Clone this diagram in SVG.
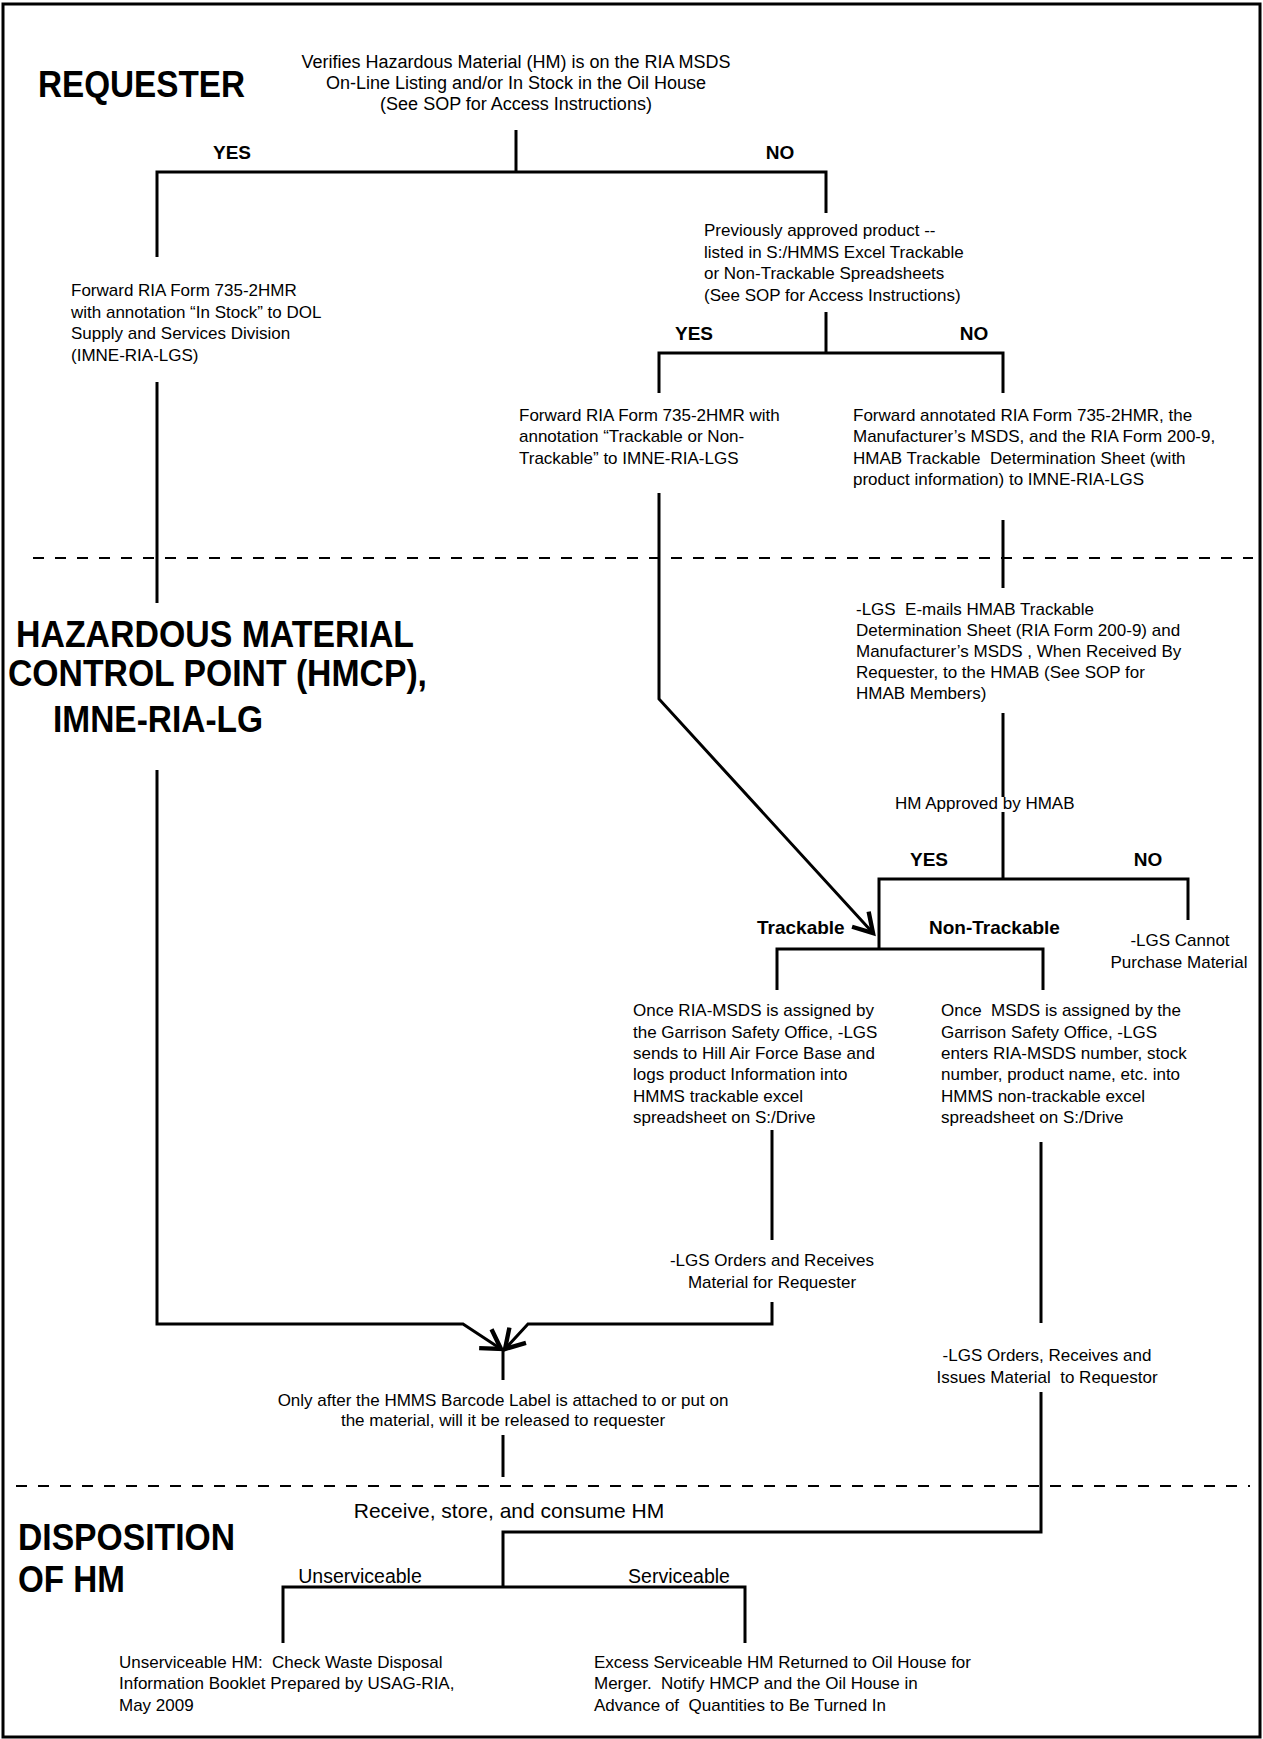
<svg xmlns="http://www.w3.org/2000/svg" width="1263" height="1739" viewBox="0 0 1263 1739">
<style>
text { font-family: "Liberation Sans", Arial, sans-serif; fill: #000; white-space: pre; }
.t { font-size: 17px; }
.t18 { font-size: 18px; }
.c { text-anchor: middle; }
.h { font-size: 37px; font-weight: bold; }
.lb { font-size: 19px; font-weight: bold; }
.ln { fill: none; stroke: #000; stroke-width: 3; stroke-linejoin: miter; }
.dash { fill: none; stroke: #000; stroke-width: 2; stroke-dasharray: 11 11; }
.frame { fill: #fff; stroke: #000; stroke-width: 3; }
</style>
<defs>
<marker id="arr" markerUnits="userSpaceOnUse" markerWidth="30" markerHeight="30" viewBox="-20 -12 24 24" refX="0" refY="0" orient="auto">
<path d="M -15 -9 L 0 0 L -15 9" fill="none" stroke="#000" stroke-width="3.5"/>
</marker>
</defs>
<rect class="frame" x="3" y="4" width="1257" height="1733"/>

<g id="lanes">
<line class="dash" x1="33" y1="558" x2="1253" y2="558"/>
<line class="dash" x1="16" y1="1486" x2="1250" y2="1486"/>
<text class="h" x="38" y="97" textLength="207" lengthAdjust="spacingAndGlyphs">REQUESTER</text>
<text class="h" x="16" y="647" textLength="398" lengthAdjust="spacingAndGlyphs">HAZARDOUS MATERIAL</text>
<text class="h" x="8" y="686" textLength="419" lengthAdjust="spacingAndGlyphs">CONTROL POINT (HMCP),</text>
<text class="h" x="53" y="732" textLength="210" lengthAdjust="spacingAndGlyphs">IMNE-RIA-LG</text>
<text class="h" x="18" y="1550" textLength="217" lengthAdjust="spacingAndGlyphs">DISPOSITION</text>
<text class="h" x="18" y="1592" textLength="107" lengthAdjust="spacingAndGlyphs">OF HM</text>
</g>

<g id="connectors">
<polyline class="ln" points="516,130 516,172"/>
<polyline class="ln" points="157,257 157,172 826,172 826,213"/>
<polyline class="ln" points="826,312 826,353"/>
<polyline class="ln" points="659,393 659,353 1003,353 1003,393"/>
<polyline class="ln" points="157,382 157,603"/>
<polyline class="ln" points="157,770 157,1324 463,1324 501,1349" marker-end="url(#arr)"/>
<polyline class="ln" points="659,493 659,699 873,933" marker-end="url(#arr)"/>
<polyline class="ln" points="1003,520 1003,588"/>
<polyline class="ln" points="1003,713 1003,797"/>
<polyline class="ln" points="1003,812 1003,879"/>
<polyline class="ln" points="879,949 879,879 1188,879 1188,920"/>
<polyline class="ln" points="777,990 777,949 1043,949 1043,990"/>
<polyline class="ln" points="772,1130 772,1240"/>
<polyline class="ln" points="772,1302 772,1324 528,1324 505,1349" marker-end="url(#arr)"/>
<polyline class="ln" points="503,1350 503,1380"/>
<polyline class="ln" points="1041,1142 1041,1323"/>
<polyline class="ln" points="503,1435 503,1477"/>
<polyline class="ln" points="1041,1392 1041,1532 503,1532 503,1587"/>
<polyline class="ln" points="283,1643 283,1587 745,1587 745,1643"/>
<text class="lb c" x="232" y="159">YES</text>
<text class="lb c" x="780" y="159">NO</text>
<text class="lb c" x="694" y="340">YES</text>
<text class="lb c" x="974" y="340">NO</text>
<text class="lb c" x="929" y="866">YES</text>
<text class="lb c" x="1148" y="866">NO</text>
<text class="lb" x="757" y="934">Trackable</text>
<text class="lb" x="929" y="934">Non-Trackable</text>
<text class="c" x="360" y="1583" style="font-size:19.5px">Unserviceable</text>
<text class="c" x="679" y="1583" style="font-size:19.5px">Serviceable</text>
</g>

<g id="n-verify">
<text class="t18 c" x="516" y="68">Verifies Hazardous Material (HM) is on the RIA MSDS</text>
<text class="t18 c" x="516" y="89">On-Line Listing and/or In Stock in the Oil House</text>
<text class="t18 c" x="516" y="110">(See SOP for Access Instructions)</text>
</g>

<g id="n-forward-instock">
<text class="t" x="71" y="296">Forward RIA Form 735-2HMR</text>
<text class="t" x="71" y="318">with annotation “In Stock” to DOL</text>
<text class="t" x="71" y="339">Supply and Services Division</text>
<text class="t" x="71" y="361">(IMNE-RIA-LGS)</text>
</g>

<g id="n-previously">
<text class="t" x="704" y="236">Previously approved product --</text>
<text class="t" x="704" y="258">listed in S:/HMMS Excel Trackable</text>
<text class="t" x="704" y="279">or Non-Trackable Spreadsheets</text>
<text class="t" x="704" y="301">(See SOP for Access Instructions)</text>
</g>

<g id="n-forward-trackable">
<text class="t" x="519" y="421">Forward RIA Form 735-2HMR with</text>
<text class="t" x="519" y="442">annotation “Trackable or Non-</text>
<text class="t" x="519" y="464">Trackable” to IMNE-RIA-LGS</text>
</g>

<g id="n-forward-annotated">
<text class="t" x="853" y="421">Forward annotated RIA Form 735-2HMR, the</text>
<text class="t" x="853" y="442">Manufacturer’s MSDS, and the RIA Form 200-9,</text>
<text class="t" x="853" y="464">HMAB Trackable  Determination Sheet (with</text>
<text class="t" x="853" y="485">product information) to IMNE-RIA-LGS</text>
</g>

<g id="n-emails">
<text class="t" x="856" y="615">-LGS  E-mails HMAB Trackable</text>
<text class="t" x="856" y="636">Determination Sheet (RIA Form 200-9) and</text>
<text class="t" x="856" y="657">Manufacturer’s MSDS , When Received By</text>
<text class="t" x="856" y="678">Requester, to the HMAB (See SOP for</text>
<text class="t" x="856" y="699">HMAB Members)</text>
</g>

<g id="n-approved">
<text class="t" x="895" y="809">HM Approved by HMAB</text>
</g>

<g id="n-cannot">
<text class="t c" x="1180" y="946">-LGS Cannot</text>
<text class="t c" x="1179" y="968">Purchase Material</text>
</g>

<g id="n-once-trackable">
<text class="t" x="633" y="1016">Once RIA-MSDS is assigned by</text>
<text class="t" x="633" y="1038">the Garrison Safety Office, -LGS</text>
<text class="t" x="633" y="1059">sends to Hill Air Force Base and</text>
<text class="t" x="633" y="1080">logs product Information into</text>
<text class="t" x="633" y="1102">HMMS trackable excel</text>
<text class="t" x="633" y="1123">spreadsheet on S:/Drive</text>
</g>

<g id="n-once-nontrackable">
<text class="t" x="941" y="1016">Once  MSDS is assigned by the</text>
<text class="t" x="941" y="1038">Garrison Safety Office, -LGS</text>
<text class="t" x="941" y="1059">enters RIA-MSDS number, stock</text>
<text class="t" x="941" y="1080">number, product name, etc. into</text>
<text class="t" x="941" y="1102">HMMS non-trackable excel</text>
<text class="t" x="941" y="1123">spreadsheet on S:/Drive</text>
</g>

<g id="n-orders-receives">
<text class="t c" x="772" y="1266">-LGS Orders and Receives</text>
<text class="t c" x="772" y="1288">Material for Requester</text>
</g>

<g id="n-orders-issues">
<text class="t c" x="1047" y="1361">-LGS Orders, Receives and</text>
<text class="t c" x="1047" y="1383">Issues Material  to Requestor</text>
</g>

<g id="n-barcode">
<text class="t c" x="503" y="1406">Only after the HMMS Barcode Label is attached to or put on</text>
<text class="t c" x="503" y="1426">the material, will it be released to requester</text>
</g>

<g id="n-receive">
<text class="c" x="509" y="1518" style="font-size:21px">Receive, store, and consume HM</text>
</g>

<g id="n-unserviceable">
<text class="t" x="119" y="1668">Unserviceable HM:  Check Waste Disposal</text>
<text class="t" x="119" y="1689">Information Booklet Prepared by USAG-RIA,</text>
<text class="t" x="119" y="1711">May 2009</text>
</g>

<g id="n-serviceable">
<text class="t" x="594" y="1668">Excess Serviceable HM Returned to Oil House for</text>
<text class="t" x="594" y="1689">Merger.  Notify HMCP and the Oil House in</text>
<text class="t" x="594" y="1711">Advance of  Quantities to Be Turned In</text>
</g>
</svg>
